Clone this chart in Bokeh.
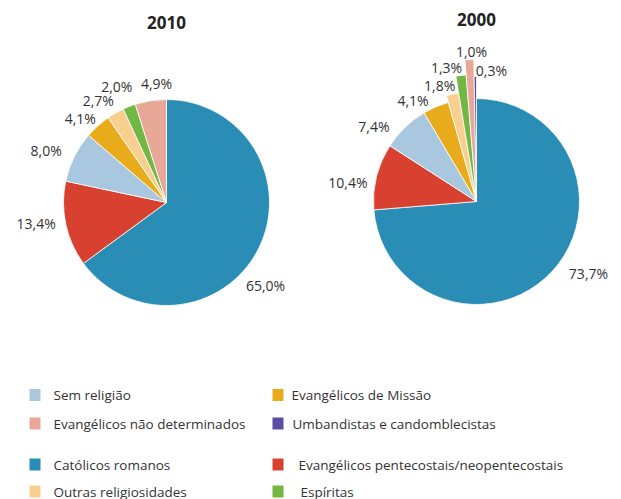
import math
from bokeh.plotting import figure
from bokeh.models import Range1d, ColumnDataSource
from bokeh.core.properties import value
from bokeh.embed import file_html
from bokeh.resources import INLINE

# ---------------- data ----------------
categories = ["Católicos romanos", "Evangélicos pentecostais/neopentecostais",
              "Sem religião", "Evangélicos de Missão", "Outras religiosidades",
              "Espíritas", "Evangélicos não determinados", "Umbandistas e candomblecistas"]
values_2010 = [65.0, 13.4, 8.0, 4.1, 2.7, 2.0, 4.9, 0.0]
values_2000 = [73.7, 10.4, 7.4, 4.1, 1.8, 1.3, 1.0, 0.3]
labels_2010 = ["65,0%", "13,4%", "8,0%", "4,1%", "2,7%", "2,0%", "4,9%", ""]
labels_2000 = ["73,7%", "10,4%", "7,4%", "4,1%", "1,8%", "1,3%", "1,0%", "0,3%"]
titles = ["2010", "2000"]

legend_order = [["Sem religião", "Evangélicos não determinados", None,
                 "Católicos romanos", "Outras religiosidades"],
                ["Evangélicos de Missão", "Umbandistas e candomblecistas", None,
                 "Evangélicos pentecostais/neopentecostais", "Espíritas"]]

# ---------------- style ----------------
colors = {
    "Católicos romanos": "#2a8db5",
    "Evangélicos pentecostais/neopentecostais": "#d8412f",
    "Sem religião": "#a9c7de",
    "Evangélicos de Missão": "#e8ab1c",
    "Outras religiosidades": "#f8cf8e",
    "Espíritas": "#72b644",
    "Evangélicos não determinados": "#e8a898",
    "Umbandistas e candomblecistas": "#5b4ea2",
}
W, H = 621, 499
R = 103
# slice outer radii (2000 chart has lengthened small slices)
radii_2010 = [R] * 8
radii_2000 = [R, R, R, R, 110, 127, 142, 125]
# label placement tweaks (degrees, distance)
nudge_2010 = [-13, -3, 3, 4, 4, 2, -4, 0]
dist_2010 = [129, 132, 131, 120, 123, 126, 119, 120]
nudge_2000 = [10, 5.6, 10, 9, 5, 5.6, -1, -7]
dist_2000 = [133, 130, 127, 119, 122, 137, 150, 132]
TXT = "#333333"
FONT = "Open Sans"


def Y(y_img):
    return H - y_img


p = figure(width=W, height=H, output_backend="svg", toolbar_location=None,
           x_range=Range1d(0, W), y_range=Range1d(0, H),
           x_axis_location=None, y_axis_location=None, min_border=0,
           background_fill_color="white", border_fill_color="white")
p.grid.visible = False
p.outline_line_color = None


def draw_pie(cx, cy, vals, labs, radii, nudges, dists, title, ty):
    total = sum(vals)
    cum = 0.0
    xs, ys, r, sa, ea, col = [], [], [], [], [], []
    lx, ly, lt = [], [], []
    for i, v in enumerate(vals):
        a0 = cum / total * 360.0
        cum += v
        a1 = cum / total * 360.0
        if v <= 0:
            continue
        xs.append(cx); ys.append(cy); r.append(radii[i])
        sa.append(math.radians(90 - a1)); ea.append(math.radians(90 - a0))
        col.append(colors[categories[i]])
        mid = 90 - (a0 + a1) / 2 + nudges[i]
        lx.append(cx + dists[i] * math.cos(math.radians(mid)))
        ly.append(cy + dists[i] * math.sin(math.radians(mid)))
        lt.append(labs[i])
    src = ColumnDataSource(dict(x=xs, y=ys, r=r, sa=sa, ea=ea, c=col))
    p.wedge(x="x", y="y", radius="r", start_angle="sa", end_angle="ea",
            fill_color="c", line_color="white", line_width=0.8, source=src)
    p.text(x=lx, y=ly, text=lt, text_align="center", text_baseline="middle",
           text_font=value(FONT), text_font_size="14px", text_color=TXT)
    p.text(x=[cx], y=[ty], text=[title], text_align="center", text_baseline="middle",
           text_font=value(FONT), text_font_size="17px", text_font_style="bold",
           text_color="#222222")


draw_pie(166, Y(202), values_2010, labels_2010, radii_2010, nudge_2010, dist_2010,
         titles[0], Y(22))
draw_pie(476, Y(201), values_2000, labels_2000, radii_2000, nudge_2000, dist_2000,
         titles[1], Y(19))

# legend
row_y = [394.5, 423, None, 464, 491]
col_sq = [34.5, 277.5]
col_tx = [[53, 53, None, 53, 53], [291, 292, None, 298, 300]]
sx, sy, sc, tx, ty, tt = [], [], [], [], [], []
for ci, col_items in enumerate(legend_order):
    for ri, name in enumerate(col_items):
        if name is None:
            continue
        sx.append(col_sq[ci]); sy.append(Y(row_y[ri])); sc.append(colors[name])
        tx.append(col_tx[ci][ri]); ty.append(Y(row_y[ri])); tt.append(name)
p.rect(x=sx, y=sy, width=11, height=12, fill_color=sc, line_color=None)
p.text(x=tx, y=ty, text=tt, text_align="left", text_baseline="middle",
       text_font=value(FONT), text_font_size="13.5px", text_color=TXT)

open("out.html", "w").write(file_html(p, INLINE))
